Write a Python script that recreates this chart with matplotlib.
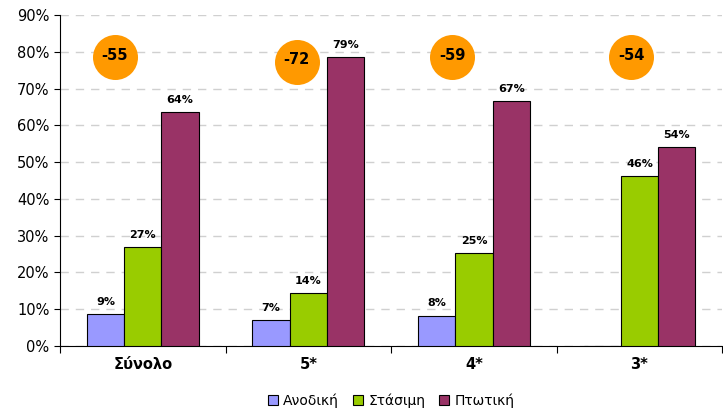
import numpy as np
import matplotlib.pyplot as plt

categories = ['Σύνολο', '5*', '4*', '3*']
series = ['Ανοδική', 'Στάσιμη', 'Πτωτική']
anodiki = [8.7, 7.1, 8.2, 0]
stasimi = [26.9, 14.4, 25.3, 46.2]
ptotiki = [63.6, 78.5, 66.6, 54.1]
labels_an = ['9%', '7%', '8%', None]
labels_st = ['27%', '14%', '25%', '46%']
labels_pt = ['64%', '79%', '67%', '54%']
balance = ['-55', '-72', '-59', '-54']

colors = ['#9999FF', '#99CC00', '#993366']
# circle placement (layout only)
circle_dx = [-0.17, -0.07, -0.13, -0.05]
circle_y = [78.5, 77.2, 78.5, 78.5]

fig = plt.figure(figsize=(7.23, 4.08), dpi=100)
ax = fig.add_axes([0.083, 0.152, 0.916, 0.811])

x = np.arange(len(categories))
w = 0.225
for i, (vals, labs) in enumerate([(anodiki, labels_an), (stasimi, labels_st), (ptotiki, labels_pt)]):
    pos = x + (i - 1) * w
    ax.bar(pos, vals, w, color=colors[i], edgecolor='black', linewidth=0.8,
           label=series[i], zorder=3)
    for p, v, l in zip(pos, vals, labs):
        if l:
            ax.text(p, v + 2.0, l, ha='center', va='bottom', fontsize=8,
                    fontweight='bold', zorder=4)

for xi, dx, cy, b in zip(x, circle_dx, circle_y, balance):
    ax.scatter(xi + dx, cy, s=1050, color='#FF9900', zorder=4, linewidths=0)
    ax.text(xi + dx, cy + 0.6, b, ha='center', va='center', fontsize=10.5,
            fontweight='bold', zorder=5)

ax.set_xlim(-0.5, 3.5)
ax.set_ylim(0, 90)
ax.set_yticks(np.arange(0, 91, 10))
ax.set_yticklabels([f'{v}%' for v in range(0, 91, 10)], fontsize=10.5)
ax.yaxis.grid(True, color='#D0D0D0', linestyle=(0, (6, 5)), linewidth=1, zorder=0)
ax.set_xticks(x)
ax.set_xticklabels(categories, fontsize=10.5, fontweight='bold')
ax.tick_params(axis='x', length=0, pad=8)
ax.set_xticks(np.arange(-0.5, 3.6, 1), minor=True)
ax.tick_params(axis='x', which='minor', length=5, width=0.8, direction='out')
ax.tick_params(axis='y', length=4, width=0.8, direction='out')
for s in ['top', 'right']:
    ax.spines[s].set_visible(False)
for s in ['left', 'bottom']:
    ax.spines[s].set_linewidth(0.8)

leg = ax.legend(loc='upper center', bbox_to_anchor=(0.5, -0.105), ncol=3, frameon=False,
                fontsize=10, handlelength=0.7, handleheight=0.7, handletextpad=0.4,
                columnspacing=1.0)

fig.savefig('out.png', dpi=100)
